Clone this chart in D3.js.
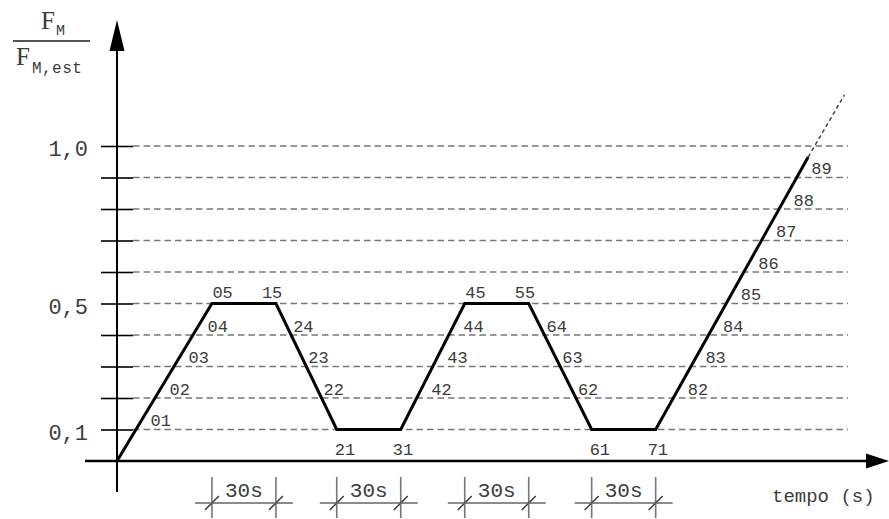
<!DOCTYPE html>
<html><head><meta charset="utf-8">
<script src="https://cdn.jsdelivr.net/npm/d3@7/dist/d3.min.js"></script>
<style>body{margin:0;background:#fff} svg{display:block}</style>
</head><body><svg id="c" width="889" height="519"></svg>
<script>
// ---- data ----
const vertexT = [0, 44.5, 74.5, 103, 133, 163, 193, 222.5, 252.5, 324];
const vertexV = [0, 0.5, 0.5, 0.1, 0.1, 0.5, 0.5, 0.1, 0.1, 0.965];
const extensionT = [324, 341];
const extensionV = [0.965, 1.162];
const gridLevels = [0.1, 0.2, 0.3, 0.4, 0.5, 0.6, 0.7, 0.8, 0.9, 1.0];
const yLabelValues = [0.1, 0.5, 1.0];
const yLabelTexts = ["0,1", "0,5", "1,0"];
const pointNames  = ["01","02","03","04","05","15","24","23","22","21","31","42","43","44","45","55","64","63","62","61","71","82","83","84","85","86","87","88","89"];
const pointLevels = [0.1,0.2,0.3,0.4,0.5,0.5,0.4,0.3,0.2,0.1,0.1,0.2,0.3,0.4,0.5,0.5,0.4,0.3,0.2,0.1,0.1,0.2,0.3,0.4,0.5,0.6,0.7,0.8,0.9];
const pointSegments = [0,0,0,0,0,2,2,2,2,2,4,4,4,4,4,6,6,6,6,6,8,8,8,8,8,8,8,8,8];
const pointKinds = ["rise","rise","rise","rise","topL","topR","fall","fall","fall","botL","botR","rise","rise","rise","topL","topR","fall","fall","fall","botL","botR","rise","rise","rise","rise","rise","rise","rise","rise"];
const plateaus = [[1,2],[3,4],[5,6],[7,8]];
const plateauLabel = "30s";
const xAxisTitle = "tempo (s)";

// ---- layout / style ----
const svg = d3.select("#c");
const x = d3.scaleLinear().domain([0, 360]).range([117, 885]);
const y = d3.scaleLinear().domain([0, 1]).range([461, 146]);
const mono = "'Liberation Mono', 'DejaVu Sans Mono', monospace";
const txt = "#3c3c3c";
const offsets = {rise:[14.5,-3.5], fall:[2,-3.5], topL:[0.5,-6], topR:[-14,-6], botL:[-2,25], botR:[-8,25]};

// grid lines
svg.append("g").selectAll("line").data(gridLevels).join("line")
  .attr("x1", 133).attr("x2", 848)
  .attr("y1", d => y(d)).attr("y2", d => y(d))
  .attr("stroke", "#777").attr("stroke-width", 1.5).attr("stroke-dasharray", "6.5,4");

// y axis ticks + labels
const yAxis = d3.axisLeft(y).tickValues(gridLevels).tickSize(32).tickPadding(13)
  .tickFormat(d => { const i = yLabelValues.findIndex(v => Math.abs(v - d) < 1e-9); return i >= 0 ? yLabelTexts[i] : ""; });
const gy = svg.append("g").attr("transform", "translate(133,0)").call(yAxis);
gy.select(".domain").remove();
gy.selectAll(".tick line").attr("stroke", "#000").attr("stroke-width", 1.6);
gy.selectAll(".tick text").attr("font-family", mono).attr("font-size", 22).attr("fill", txt).attr("dy", "0.45em");

// y axis line + arrow
svg.append("line").attr("x1", 117).attr("x2", 117).attr("y1", 492).attr("y2", 45)
  .attr("stroke", "#000").attr("stroke-width", 2);
svg.append("path").attr("d", "M117,20 L109.5,51 L124.5,51 Z").attr("fill", "#000");

// x axis line + arrow
svg.append("line").attr("x1", 85).attr("x2", 870).attr("y1", 461).attr("y2", 461)
  .attr("stroke", "#000").attr("stroke-width", 2.5);
svg.append("path").attr("d", "M889,461 L866,453.5 L866,468.5 Z").attr("fill", "#000");

// main load path
const pts = vertexT.map((t, i) => [t, vertexV[i]]);
const line = d3.line().x(d => x(d[0])).y(d => y(d[1]));
svg.append("path").datum(pts).attr("d", line)
  .attr("fill", "none").attr("stroke", "#000").attr("stroke-width", 3).attr("stroke-linejoin", "miter");
// dashed extension
svg.append("path").datum(extensionT.map((t, i) => [t, extensionV[i]])).attr("d", line)
  .attr("fill", "none").attr("stroke", "#444").attr("stroke-width", 1.5).attr("stroke-dasharray", "4,3");

// point labels
const labels = pointNames.map((n, i) => {
  const s = pointSegments[i], lv = pointLevels[i];
  const t0 = vertexT[s], t1 = vertexT[s + 1], v0 = vertexV[s], v1 = vertexV[s + 1];
  const t = t0 + (lv - v0) / (v1 - v0) * (t1 - t0);
  return {n, t, v: lv, k: pointKinds[i]};
});
svg.append("g").selectAll("text").data(labels).join("text")
  .attr("x", d => x(d.t) + offsets[d.k][0])
  .attr("y", d => y(d.v) + offsets[d.k][1])
  .attr("font-family", mono).attr("font-size", 17).attr("fill", txt)
  .text(d => d.n);

// 30 s dimension brackets
const dims = svg.append("g");
plateaus.forEach(([a, b]) => {
  const x0 = x(vertexT[a]), x1 = x(vertexT[b]), yl = 503;
  [x0, x1].forEach(xx => {
    dims.append("line").attr("x1", xx).attr("x2", xx).attr("y1", 477).attr("y2", 518)
      .attr("stroke", "#777").attr("stroke-width", 1.6);
    dims.append("line").attr("x1", xx - 7).attr("x2", xx + 7).attr("y1", yl + 7).attr("y2", yl - 7)
      .attr("stroke", "#333").attr("stroke-width", 1.4);
  });
  dims.append("line").attr("x1", x0 - 17).attr("x2", x1 + 17).attr("y1", yl).attr("y2", yl)
    .attr("stroke", "#666").attr("stroke-width", 1.6);
  dims.append("text").attr("x", (x0 + x1) / 2).attr("y", 497).attr("text-anchor", "middle")
    .attr("font-family", mono).attr("font-size", 21).attr("fill", txt).text(plateauLabel);
});

// x axis title
svg.append("text").attr("x", 772).attr("y", 502).attr("font-family", mono).attr("font-size", 19)
  .attr("fill", txt).text(xAxisTitle);

// y axis title as a fraction F_M / F_M,est
const serif = "'Liberation Serif', 'DejaVu Serif', serif";
const num = svg.append("text").attr("x", 41).attr("y", 29).attr("fill", txt);
num.append("tspan").attr("font-family", serif).attr("font-size", 25).text("F");
num.append("tspan").attr("font-family", mono).attr("font-size", 15).attr("dy", 6).attr("dx", 1).text("M");
svg.append("line").attr("x1", 13).attr("x2", 90).attr("y1", 41).attr("y2", 41)
  .attr("stroke", "#555").attr("stroke-width", 2);
const den = svg.append("text").attr("x", 16).attr("y", 65).attr("fill", txt);
den.append("tspan").attr("font-family", serif).attr("font-size", 25).text("F");
den.append("tspan").attr("font-family", mono).attr("font-size", 16).attr("dy", 8).attr("dx", 2).attr("letter-spacing", 0.5).text("M,est");
</script></body></html>
